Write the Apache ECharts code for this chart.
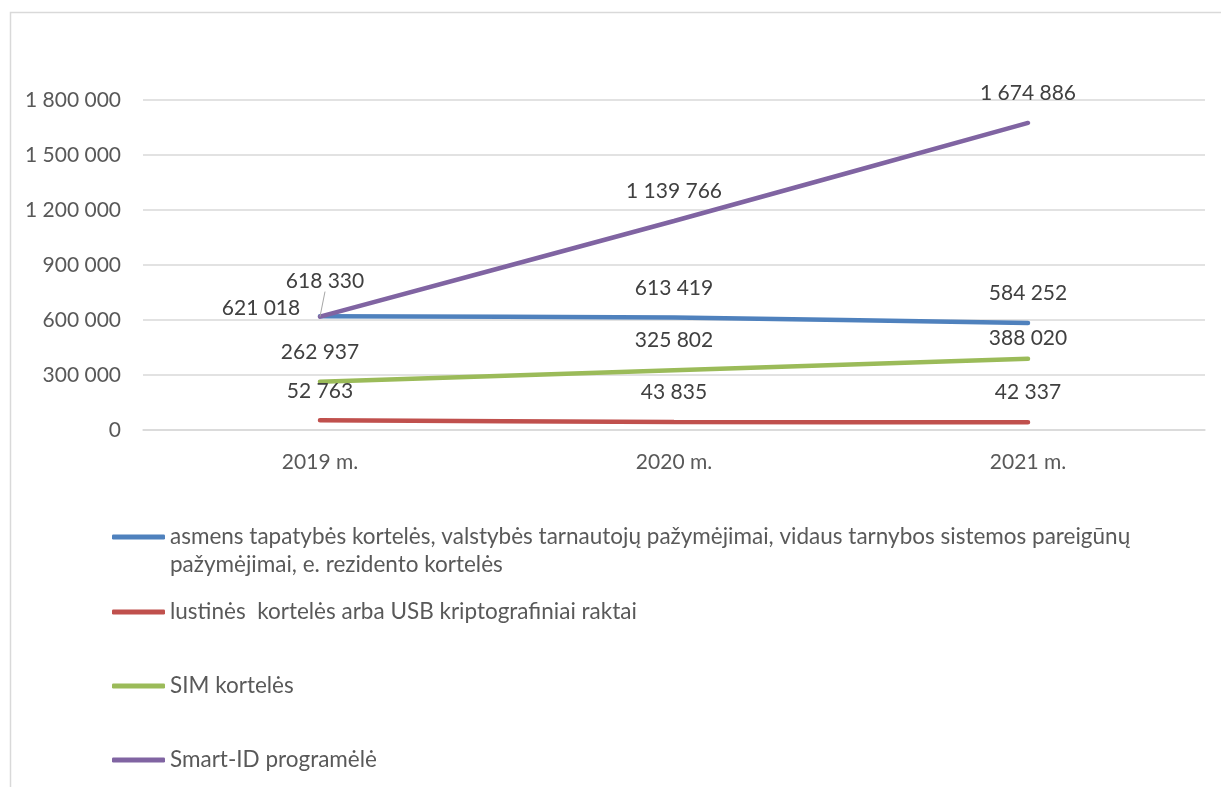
<!DOCTYPE html>
<html>
<head>
<meta charset="utf-8">
<script src="https://cdn.jsdelivr.net/npm/echarts@6/dist/echarts.min.js"></script>
<style>
html,body{margin:0;padding:0;background:#fff;}
#chart{width:1221px;height:787px;}
</style>
</head>
<body>
<div id="chart"></div>
<script>
const categories = ['2019 m.', '2020 m.', '2021 m.'];
const seriesNames = [
  'asmens tapatybės kortelės, valstybės tarnautojų pažymėjimai, vidaus tarnybos sistemos pareigūnų pažymėjimai, e. rezidento kortelės',
  'lustinės  kortelės arba USB kriptografiniai raktai',
  'SIM kortelės',
  'Smart-ID programėlė'
];
const idCards = [621018, 613419, 584252];
const chipCards = [52763, 43835, 42337];
const simCards = [262937, 325802, 388020];
const smartId = [618330, 1139766, 1674886];
const yTicks = [0, 300000, 600000, 900000, 1200000, 1500000, 1800000];

const colors = ['#4f81bd', '#c0504d', '#9bbb59', '#8064a2'];
const FONT = 'Lato';
const fmt = v => String(v).replace(/\B(?=(\d{3})+(?!\d))/g, ' ');

function makeSeries(i, data, extra) {
  return Object.assign({
    name: seriesNames[i],
    type: 'line',
    data: data,
    smooth: 0.2,
    showSymbol: true,
    symbol: 'circle',
    symbolSize: 0.1,
    lineStyle: { color: colors[i], width: 4.5, cap: 'round' },
    itemStyle: { color: colors[i] },
    label: {
      show: true, position: 'top', distance: 19,
      fontFamily: FONT, fontSize: 21, color: '#404040',
      formatter: p => fmt(p.value)
    },
    labelLine: { show: false },
    emphasis: { disabled: true },
    z: 2
  }, extra || {});
}

// wrap the long first legend entry after "pareigūnų", as in the original
const wrapFirst = name => '\n' + name.replace(' pareigūnų ', ' pareigūnų\n');

const legendTops = [495, 598, 672, 746];
const legends = seriesNames.map((n, i) => ({
  data: [{ name: n, icon: 'roundRect', itemStyle: { color: colors[i], opacity: 1 } }],
  orient: 'vertical',
  left: 112,
  top: legendTops[i],
  padding: 0,
  itemWidth: 53,
  itemHeight: 5,
  selectedMode: false,
  formatter: i === 0 ? wrapFirst : (name => name),
  textStyle: {
    fontFamily: FONT, fontSize: 22.5, color: '#595959', lineHeight: 28
  }
}));

const chart = echarts.init(document.getElementById('chart'));
chart.setOption({
  animation: false,
  backgroundColor: '#fff',
  color: colors,
  graphic: [{
    type: 'rect', left: 8, top: 10,
    shape: { width: 1400, height: 900 },
    style: { fill: 'none', stroke: '#d9d9d9', lineWidth: 1.5 },
    silent: true, z: -1
  }],
  legend: legends,
  grid: { left: 143, right: 16, top: 100, bottom: 357, containLabel: false },
  xAxis: {
    type: 'category',
    data: categories,
    boundaryGap: true,
    axisLine: { show: true, lineStyle: { color: '#d9d9d9', width: 1.5 } },
    axisTick: { show: false },
    axisLabel: { fontFamily: FONT, fontSize: 21, color: '#595959', margin: 22 }
  },
  yAxis: {
    type: 'value',
    min: yTicks[0],
    max: yTicks[yTicks.length - 1],
    interval: yTicks[1] - yTicks[0],
    axisLine: { show: false },
    axisTick: { show: false },
    splitLine: { lineStyle: { color: '#d9d9d9', width: 1.5 } },
    axisLabel: { fontFamily: FONT, fontSize: 21, color: '#595959', margin: 22, formatter: v => fmt(v) }
  },
  series: [
    makeSeries(0, idCards, {
      labelLayout: p => p.dataIndex === 0 ? { dx: -59, dy: 22 } : {}
    }),
    makeSeries(1, chipCards),
    makeSeries(2, simCards, {
      labelLayout: p => p.dataIndex === 2 ? { dy: 9 } : {}
    }),
    makeSeries(3, smartId.map((v, i) => i === 0
      ? { value: v, labelLine: { show: true, lineStyle: { color: '#a6a6a6', width: 1 } } }
      : v), {
      labelLayout: p => p.dataIndex === 0 ? { dx: 5, dy: -6 } : {}
    })
  ]
});
</script>
</body>
</html>
